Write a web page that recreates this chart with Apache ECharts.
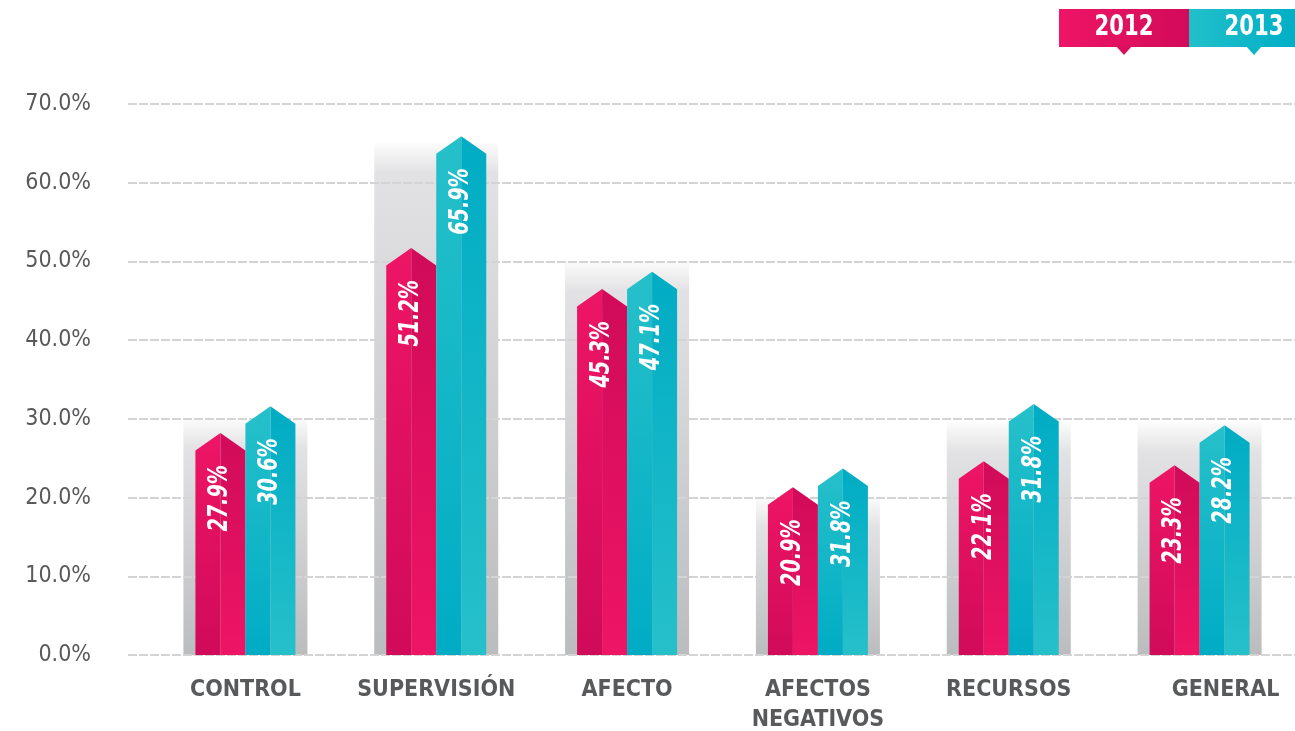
<!DOCTYPE html>
<html><head><meta charset="utf-8">
<script src="https://cdn.jsdelivr.net/npm/echarts@6/dist/echarts.min.js"></script>
<style>html,body{margin:0;padding:0;background:#fff}#c{width:1295px;height:731px}</style>
</head><body><div id="c"></div>
<script>
// ---- data ----
const categories = ['CONTROL', 'SUPERVISIÓN', 'AFECTO', 'AFECTOS\nNEGATIVOS', 'RECURSOS', 'GENERAL'];
const seriesNames = ['2012', '2013'];
// bar heights as drawn (peak of each prism)
const values2012 = [28.2, 51.7, 46.5, 21.3, 24.6, 24.1];
const values2013 = [31.6, 65.9, 48.7, 23.7, 31.9, 29.2];
// printed labels
const labels2012 = ['27.9%', '51.2%', '45.3%', '20.9%', '22.1%', '23.3%'];
const labels2013 = ['30.6%', '65.9%', '47.1%', '31.8%', '31.8%', '28.2%'];
// grey backdrop height behind each group
const backdropTops = [30, 65, 50, 20, 29.5, 29.5];
const yMin = 0, yMax = 70, yStep = 10;

const FONT = '"DejaVu Sans Condensed", "DejaVu Sans", sans-serif';
const chart = echarts.init(document.getElementById('c'));

const palettes = [
  { light: '#ee1565', dark: '#d00b59' },
  { light: '#26c0ca', dark: '#00acc4' }
];

function makeBarRender(offset, pal, labels) {
  return function (params, api) {
    const idx = api.value(0), v = api.value(1);
    const top = api.coord([idx, v]);
    const base = api.coord([idx, 0]);
    const cx = top[0] + offset;
    const hw = 25, roof = 17.5;
    const xl = cx - hw, xr = cx + hw;
    const gL = new echarts.graphic.LinearGradient(0, 0, 0, 1, [
      { offset: 0, color: pal.light }, { offset: 1, color: pal.dark }]);
    const gR = new echarts.graphic.LinearGradient(0, 0, 0, 1, [
      { offset: 0, color: pal.dark }, { offset: 1, color: pal.light }]);
    return {
      type: 'group',
      children: [
        { type: 'polygon', shape: { points: [[xl, base[1]], [xl, top[1] + roof], [cx, top[1]], [cx, base[1]]] }, style: { fill: gL } },
        { type: 'polygon', shape: { points: [[cx, top[1]], [xr, top[1] + roof], [xr, base[1]], [cx, base[1]]] }, style: { fill: gR } },
        { type: 'text', x: cx, y: top[1] + 32, rotation: Math.PI / 2, scaleX: 0.82,
          style: { text: labels[params.dataIndex], fill: '#ffffff', fontFamily: FONT, fontSize: 26,
                   fontWeight: 'bold', fontStyle: 'italic', align: 'right', verticalAlign: 'middle' } }
      ]
    };
  };
}

function backdropRender(params, api) {
  const idx = api.value(0), v = api.value(1);
  const top = api.coord([idx, v]);
  const base = api.coord([idx, 0]);
  const h = base[1] - top[1];
  const f = Math.min(0.5, 30 / h);
  return {
    type: 'rect',
    shape: { x: top[0] - 62, y: top[1], width: 124, height: h },
    style: {
      fill: new echarts.graphic.LinearGradient(0, 0, 0, 1, [
        { offset: 0, color: '#fbfbfb' }, { offset: f, color: '#e2e2e4' }, { offset: 1, color: '#bbbcbe' }])
    }
  };
}

const legendBoxes = [
  { x: 1059, w: 130, c0: '#ee1565', c1: '#d20b5a' },
  { x: 1189, w: 106, c0: '#22bfca', c1: '#00afc6' }
];
const legendCenters = [1124, 1254];
const graphics = [];
legendBoxes.forEach((b, i) => {
  const col = new echarts.graphic.LinearGradient(0, 0, 1, 0, [{ offset: 0, color: b.c0 }, { offset: 1, color: b.c1 }]);
  graphics.push({ type: 'rect', shape: { x: b.x, y: 9, width: b.w, height: 38 }, style: { fill: col } });
  graphics.push({ type: 'polygon', shape: { points: [[legendCenters[i] - 8, 46], [legendCenters[i] + 8, 46], [legendCenters[i], 55]] },
    style: { fill: i === 0 ? '#dc0f5e' : '#0cb5c7' } });
  graphics.push({ type: 'text', x: legendCenters[i], y: 28, scaleX: 0.84,
    style: { text: seriesNames[i], fill: '#fff', fontFamily: FONT, fontSize: 28, fontWeight: 'bold', align: 'center', verticalAlign: 'middle' } });
});

chart.setOption({
  animation: false,
  backgroundColor: '#ffffff',
  grid: [
    { left: 128, right: 0, top: 104, bottom: 76, outerBoundsMode: 'none', containLabel: false },
    { left: 150, right: 0, top: 104, bottom: 76, outerBoundsMode: 'none', containLabel: false }
  ],
  xAxis: [
    { gridIndex: 0, type: 'value', show: false },
    { gridIndex: 1, type: 'category', data: categories,
      axisLine: { show: false }, axisTick: { show: false },
      axisLabel: {
        interval: 0, margin: 20, color: '#58595b', fontFamily: FONT, fontSize: 23, fontWeight: 'bold', lineHeight: 30,
        formatter: (v, i) => i === categories.length - 1 ? '{g|' + v + '}' : v,
        rich: { g: { padding: [0, 0, 0, 52], color: '#58595b', fontFamily: FONT, fontSize: 23, fontWeight: 'bold', lineHeight: 30 } }
      }
    }
  ],
  yAxis: [
    { gridIndex: 0, type: 'value', min: yMin, max: yMax, interval: yStep, z: 1,
      axisLine: { show: false }, axisTick: { show: false },
      axisLabel: { margin: 37, color: '#58595b', fontFamily: FONT, fontSize: 23, formatter: v => v.toFixed(1) + '%' },
      splitLine: { lineStyle: { color: '#d4d4d4', width: 2, type: [9, 2] } }
    },
    { gridIndex: 1, type: 'value', min: yMin, max: yMax, interval: yStep, show: false, splitLine: { show: false } }
  ],
  graphic: graphics,
  series: [
    { type: 'custom', name: 'backdrop', xAxisIndex: 1, yAxisIndex: 1, z: 0, silent: true,
      renderItem: backdropRender, data: backdropTops.map((v, i) => [i, v]) },
    { type: 'custom', name: seriesNames[0], xAxisIndex: 1, yAxisIndex: 1, z: 3,
      renderItem: makeBarRender(-25, palettes[0], labels2012), data: values2012.map((v, i) => [i, v]) },
    { type: 'custom', name: seriesNames[1], xAxisIndex: 1, yAxisIndex: 1, z: 3,
      renderItem: makeBarRender(25, palettes[1], labels2013), data: values2013.map((v, i) => [i, v]) }
  ]
});
</script>
</body></html>
